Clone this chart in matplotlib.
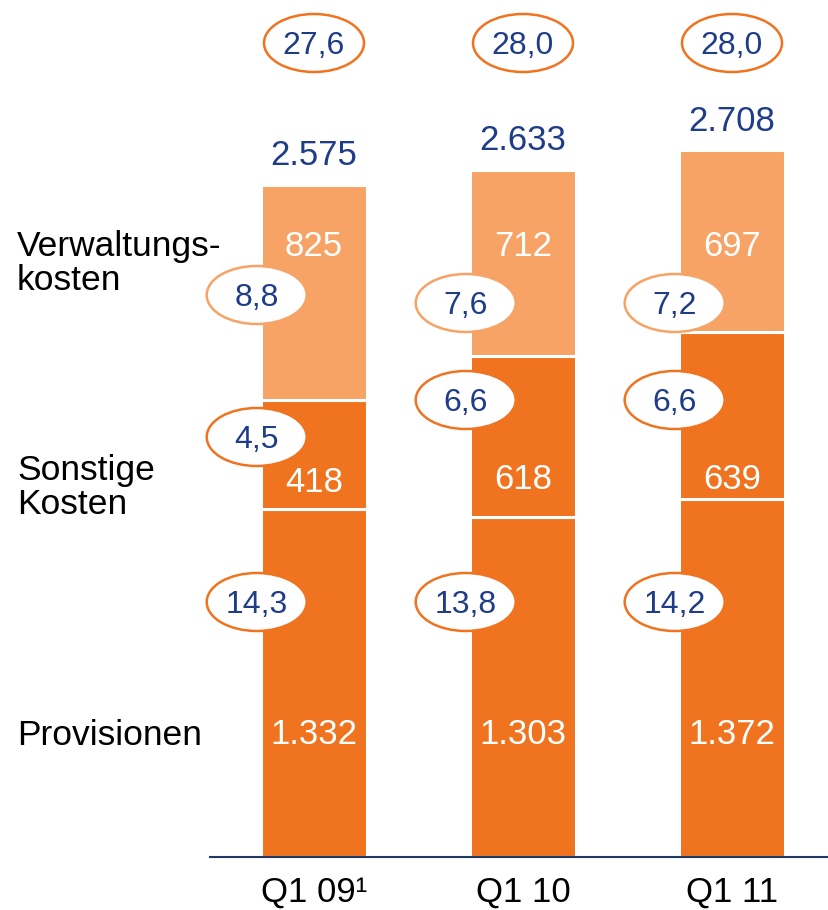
import matplotlib
matplotlib.use("Agg")
import matplotlib.pyplot as plt
from matplotlib.patches import Ellipse

plt.rcParams['font.family'] = ['Liberation Sans', 'DejaVu Sans']

# data
quarters = ['Q1 09\u00b9', 'Q1 10', 'Q1 11']
provisionen = [1332, 1303, 1372]
sonstige = [418, 618, 639]
verwaltung = [825, 712, 697]
totals = [2575, 2633, 2708]
ratio_total = [27.6, 28.0, 28.0]
ratio_prov = [14.3, 13.8, 14.2]
ratio_sonst = [4.5, 6.6, 6.6]
ratio_verw = [8.8, 7.6, 7.2]
row_labels = [('Verwaltungs-', 'kosten'), ('Sonstige', 'Kosten'), ('Provisionen',)]

DARK = '#F07320'
LIGHT = '#F7A365'
BLUE = '#1F3C88'
NAVY = '#1F3864'

# pixel layout helpers (figure is 829 x 910 px)
W, H = 829, 910
BASE = 857          # baseline in px from top
PXU = 0.261         # px per data unit
XU = 209            # px per category step
X0 = 314            # px of first bar centre


def py(p):
    return (BASE - p) / PXU


def de(v):
    return ('%.1f' % v).replace('.', ',')


def th(v):
    return '{:,}'.format(v).replace(',', '.')


fig = plt.figure(figsize=(W / 100, H / 100), dpi=100)
ax = fig.add_axes([0, 0, 1, 1])
ax.set_xlim(-X0 / XU, (W - X0) / XU)
ax.set_ylim(-(H - BASE) / PXU, BASE / PXU)
ax.axis('off')

x = list(range(len(quarters)))
bw = 0.51
ax.bar(x, provisionen, bw, color=DARK, edgecolor='white', linewidth=2.2)
ax.bar(x, sonstige, bw, bottom=provisionen, color=DARK, edgecolor='white', linewidth=2.2)
bot2 = [a + b for a, b in zip(provisionen, sonstige)]
ax.bar(x, verwaltung, bw, bottom=bot2, color=LIGHT, edgecolor='white', linewidth=2.2)

ax.axhline(0, xmin=210 / W, xmax=1, color=NAVY, lw=1.5)

# segment values (white)
seg_base = {0: [256, 256, 256], 1: [492, 489, 489], 2: [744, 744, 744]}
for i in x:
    ax.text(i, py(seg_base[0][i]), th(verwaltung[i]), color='white', fontsize=25, ha='center', va='baseline')
    ax.text(i, py(seg_base[1][i]), th(sonstige[i]), color='white', fontsize=25, ha='center', va='baseline')
    ax.text(i, py(seg_base[2][i]), th(provisionen[i]), color='white', fontsize=25, ha='center', va='baseline')
    top = bot2[i] + verwaltung[i]
    ax.annotate(th(totals[i]), (i, top), xytext=(0, 14), textcoords='offset points',
                color=BLUE, fontsize=25, ha='center', va='baseline')
    ax.text(i, py(902), quarters[i], fontsize=25, ha='center', va='baseline', color='black')


def oval(xc, yc, txt, ec):
    ax.add_patch(Ellipse((xc, py(yc)), 100 / XU, 58 / PXU, facecolor='white', edgecolor=ec, lw=1.8, zorder=3))
    ax.text(xc, py(yc + 11), txt, color=BLUE, fontsize=23, ha='center', va='baseline', zorder=4)


verw_y = [295, 303, 303]
sonst_y = [437, 400, 400]
prov_y = [602, 602, 602]
for i in x:
    xl = i - bw / 2 - 4 / XU
    oval(i, 43, de(ratio_total[i]), DARK)
    oval(xl, verw_y[i], de(ratio_verw[i]), LIGHT)
    oval(xl, sonst_y[i], de(ratio_sonst[i]), DARK)
    oval(xl, prov_y[i], de(ratio_prov[i]), DARK)

# row labels on the left
lab_base = [(256, 290), (480, 514), (745,)]
for lines, ys in zip(row_labels, lab_base):
    for t, yb in zip(lines, ys):
        fig.text(17 / W, 1 - yb / H, t, fontsize=25.5, ha='left', va='baseline', color='black')

fig.savefig('out.png', dpi=100)
